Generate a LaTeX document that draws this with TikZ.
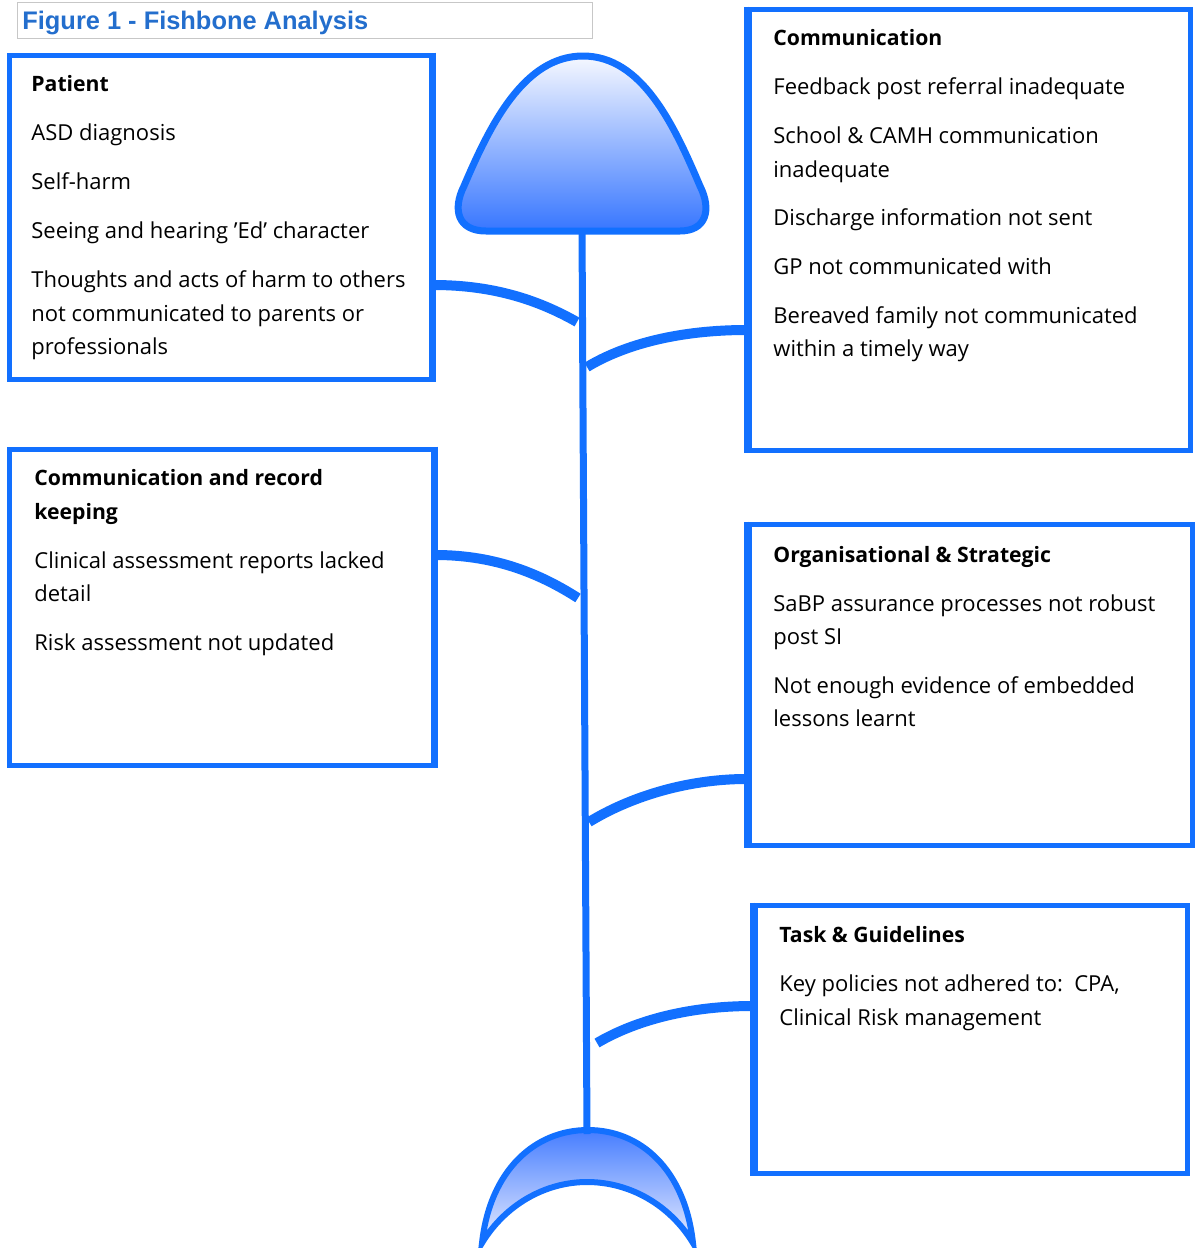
\documentclass[tikz,border=0pt]{standalone}
\usepackage{fontspec}
\setmainfont{Open Sans}
\newfontfamily\titlefont{Liberation Sans}
\usetikzlibrary{shadows}
\definecolor{bblue}{RGB}{18,112,255}
\definecolor{tblue}{RGB}{35,110,205}
\definecolor{headtop}{RGB}{246,248,255}
\definecolor{headbot}{RGB}{55,118,255}
\definecolor{tailtop}{RGB}{70,125,255}
\definecolor{tailbot}{RGB}{232,237,255}
\begin{document}
\begin{tikzpicture}[x=0.5pt,y=-0.5pt,
  box/.style={draw=bblue, line width=2.5pt, fill=white, inner sep=0pt,
    drop shadow={opacity=0.18, shadow xshift=1pt, shadow yshift=-1pt}},
  titlebox/.style={draw=black!22, line width=0.5pt, fill=white, inner sep=0pt},
  txt/.style={anchor=base west, inner sep=0pt, font=\fontsize{11}{13}\selectfont},
  hd/.style={txt, font=\fontsize{10.6}{13}\selectfont\bfseries},
  bone/.style={draw=bblue, line width=5pt, line cap=butt},
  spineline/.style={draw=bblue, line width=3.5pt}]
\useasboundingbox (0,0) rectangle (1197,1248);

% title
\node[titlebox, minimum width=287.5pt, minimum height=18pt] (titlebox) at (304.5,20) {};
\node[anchor=base west, inner sep=0pt, text=tblue, font=\titlefont\fontsize{12.7}{15}\selectfont\bfseries] (title) at (22,29) {Figure 1 - Fishbone Analysis};

% tail
\path[draw=bblue, line width=3pt, top color=tailtop, bottom color=tailbot, line join=miter]
  (482,1243) .. controls (490,1170) and (535,1130) .. (588,1130)
  .. controls (641,1130) and (685,1170) .. (693,1243)
  .. controls (670,1205) and (630,1182) .. (587,1182)
  .. controls (545,1182) and (505,1205) .. (482,1243) -- cycle;
\coordinate (tailtopc) at (587,1134);

% spine
\coordinate (headbase) at (582,228);
\draw[spineline] (headbase) -- (tailtopc);

% head
\path[draw=bblue, line width=3.5pt, top color=headtop, bottom color=headbot]
  (583,56) .. controls (642,56) and (674,125) .. (700,186)
  .. controls (712,210) and (706,231) .. (680,231) -- (486,231)
  .. controls (458,231) and (452,210) .. (464,186)
  .. controls (490,125) and (524,56) .. (583,56) -- cycle;

% bone ends on spine
\coordinate (b1) at (577,322);
\coordinate (b2) at (587,367);
\coordinate (b3) at (578,598);
\coordinate (b4) at (589,822);
\coordinate (b5) at (597,1043);

% boxes
\node[box, minimum width=211pt, minimum height=162pt] (patient) at (220,217) {};
\node[box, minimum width=220.5pt, minimum height=220.5pt] (comm) at (969.5,229.5) {};
\node[box, minimum width=212pt, minimum height=158pt] (crk) at (221,607) {};
\node[box, minimum width=221.5pt, minimum height=160.5pt] (org) at (970.5,684.5) {};
\node[box, minimum width=216pt, minimum height=134pt] (task) at (971,1039) {};

% bones
\draw[bone] (patient.east |- 0,285) .. controls (495,285) and (540,301) .. (b1);
\draw[bone] (comm.west |- 0,330) .. controls (680,330) and (625,344) .. (b2);
\draw[bone] (crk.east |- 0,555) .. controls (497,555) and (542,575) .. (b3);
\draw[bone] (org.west |- 0,779) .. controls (685,779) and (628,798) .. (b4);
\draw[bone] (task.west |- 0,1006) .. controls (690,1006) and (636,1020) .. (b5);
\foreach \b in {patient,crk}{
  \draw[bblue, line width=2.5pt] (\b.north east) -- (\b.south east);}
\foreach \b in {comm,org,task}{
  \draw[bblue, line width=2.5pt] (\b.north west) -- (\b.south west);}

% patient text
\node[hd]  (p0) at (31,91) {Patient};
\node[txt] (p1) at (31,140) {ASD diagnosis};
\node[txt] (p2) at (31,189) {Self-harm};
\node[txt] (p3) at (31,238) {Seeing and hearing ’Ed’ character};
\node[txt] (p4) at (31,287) {Thoughts and acts of harm to others};
\node[txt] (p5) at (31,321) {not communicated to parents or};
\node[txt] (p6) at (31,354) {professionals};

% communication text
\node[hd]  (c0) at (773,45) {Communication};
\node[txt] (c1) at (773,94) {Feedback post referral inadequate};
\node[txt] (c2) at (773,143) {School \& CAMH communication};
\node[txt] (c3) at (773,177) {inadequate};
\node[txt] (c4) at (773,225) {Discharge information not sent};
\node[txt] (c5) at (773,274) {GP not communicated with};
\node[txt] (c6) at (773,323) {Bereaved family not communicated};
\node[txt] (c7) at (773,356) {within a timely way};

% communication and record keeping text
\node[hd]  (r0) at (34,485) {Communication and record};
\node[hd]  (r1) at (34,519) {keeping};
\node[txt] (r2) at (34,568) {Clinical assessment reports lacked};
\node[txt] (r3) at (34,601) {detail};
\node[txt] (r4) at (34,650) {Risk assessment not updated};

% organisational text
\node[hd]  (o0) at (773,562) {Organisational \& Strategic};
\node[txt] (o1) at (773,611) {SaBP assurance processes not robust};
\node[txt] (o2) at (773,644) {post SI};
\node[txt] (o3) at (773,693) {Not enough evidence of embedded};
\node[txt] (o4) at (773,726) {lessons learnt};

% task text
\node[hd]  (t0) at (779,942) {Task \& Guidelines};
\node[txt] (t1) at (779,991) {Key policies not adhered to:\ \ CPA,};
\node[txt] (t2) at (779,1025) {Clinical Risk management};
\end{tikzpicture}
\end{document}
